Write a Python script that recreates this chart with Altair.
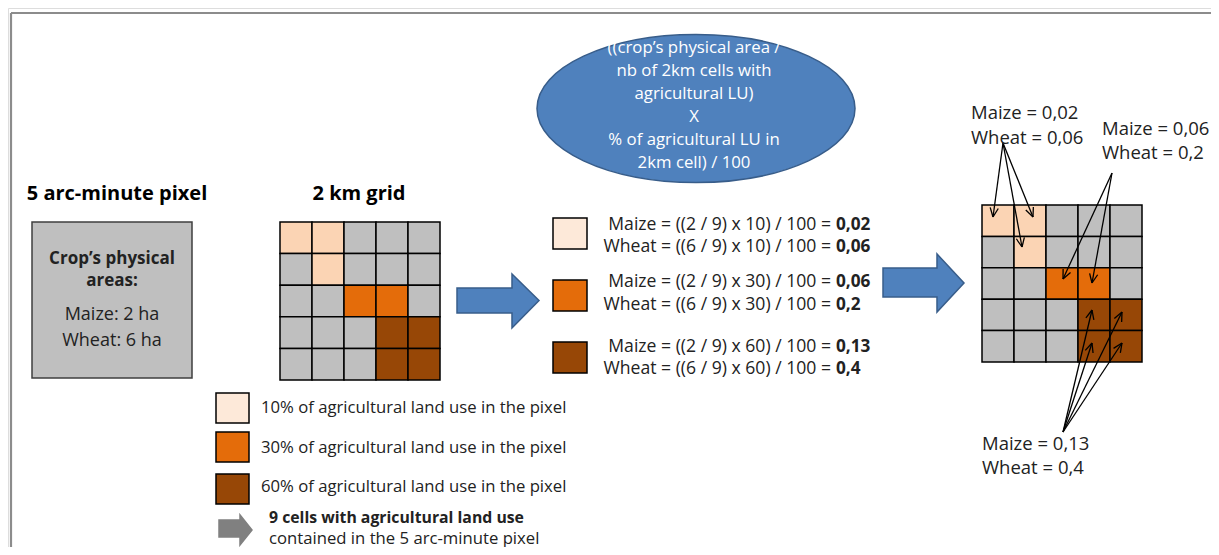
import math
import altair as alt
import pandas as pd

# ---------------- data ----------------
grid_pattern = ["LLGGG", "GLGGG", "GGOOG", "GGGBB", "GGGBB"]
cell_colors = {"L": "#FBD4B4", "G": "#BFBFBF", "O": "#E46C0A", "B": "#974706"}
legend_colors = ["#FDE9D9", "#E46C0A", "#974706"]
share_pct = [10, 30, 60]
crops = ["Maize", "Wheat"]
crop_ha = [2, 6]
n_cells = 9
maize_vals = ["0,02", "0,06", "0,13"]
wheat_vals = ["0,06", "0,2", "0,4"]
ellipse_lines = ["((crop\u2019s physical area /", "nb of 2km cells with",
                 "agricultural LU)", "X", "% of agricultural LU in",
                 "2km cell) / 100"]
title_pixel = "5 arc-minute pixel"
title_grid = "2 km grid"
box_lines = ["Crop\u2019s physical", "areas:"]
legend_note = ["9 cells with agricultural land use",
               "contained in the 5 arc-minute pixel"]

# ---------------- layout ----------------
W, H = 1203, 539
FONT = "Open Sans"
XS = alt.Scale(domain=[8, 1211], nice=False, zero=False)
YS = alt.Scale(domain=[8, 547], nice=False, zero=False, reverse=True)


def X(f="x"):
    return alt.X(f"{f}:Q", scale=XS, axis=None)


def Y(f="y"):
    return alt.Y(f"{f}:Q", scale=YS, axis=None, stack=None)


layers = []

# frame lines
frame = pd.DataFrame([
    {"x": 11, "y": 13, "x2": 1211, "y2": 13},
    {"x": 11, "y": 13, "x2": 11, "y2": 547},
])
layers.append(alt.Chart(frame).mark_rule(color="#8C8C8C", strokeWidth=2.2).encode(
    x=X(), y=Y(), x2="x2:Q", y2="y2:Q"))

# grey 5 arc-minute box
box = pd.DataFrame([{"x": 32, "x2": 192, "y": 222, "y2": 378}])
layers.append(alt.Chart(box).mark_rect(fill="#BFBFBF", stroke="#3F3F3F", strokeWidth=1.5).encode(
    x=X(), x2="x2:Q", y=Y(), y2="y2:Q"))

# grids
rows = []
for gx, gy, cw, ch in [(280, 222, 32, 31.6), (982, 205, 32, 31.4)]:
    for r, line in enumerate(grid_pattern):
        for c, k in enumerate(line):
            rows.append({"x": gx + c * cw, "x2": gx + (c + 1) * cw,
                         "y": gy + r * ch, "y2": gy + (r + 1) * ch,
                         "fill": cell_colors[k]})
# legend squares
for i, col in enumerate(legend_colors):
    ly = [393, 432, 474][i]
    rows.append({"x": 216, "x2": 249, "y": ly, "y2": ly + 30, "fill": col})
    my = [218, 280, 342][i]
    rows.append({"x": 553, "x2": 587, "y": my, "y2": my + 31, "fill": col})
cells = pd.DataFrame(rows)
layers.append(alt.Chart(cells).mark_rect(stroke="#000000", strokeWidth=1.5).encode(
    x=X(), x2="x2:Q", y=Y(), y2="y2:Q", fill=alt.Fill("fill:N", scale=None)))


# block arrows as areas (one layer per arrow)
def block_arrow(x0, xh, xt, st, sb, ht, hb, yc):
    pts = [(x0, st, sb), (xh - 0.01, st, sb), (xh, ht, hb), (xt, yc, yc)]
    return pd.DataFrame([{"x": p[0], "y": p[1], "y2": p[2]} for p in pts])


for spec, fill, stroke in [
    ((457, 512, 539, 288, 313, 274, 328, 300.5), "#4F81BD", "#385D8A"),
    ((883, 937, 964, 268, 297, 254, 312, 283), "#4F81BD", "#385D8A"),
    ((219, 240, 252, 520, 537, 515, 545, 530), "#808080", "#808080"),
]:
    layers.append(alt.Chart(block_arrow(*spec)).mark_area(
        fill=fill, stroke=stroke, strokeWidth=1.5, opacity=1, orient="vertical",
        interpolate="linear").encode(
        x=X(), y=Y(), y2="y2:Q"))

# ellipse
ell = pd.DataFrame([{"x": 696, "y": 108.5}])
rx, ry = 159, 74
shape = f"M-1,0 A1,{ry / rx:.4f} 0 1,1 1,0 A1,{ry / rx:.4f} 0 1,1 -1,0 Z"
layers.append(alt.Chart(ell).mark_point(shape=shape, size=(2 * rx) ** 2, filled=True,
                                        fill="#4F81BD", stroke="#385D8A", strokeWidth=1.5,
                                        opacity=1).encode(x=X(), y=Y()))

# connector arrows (right grid)
conn = [((1003, 143), (993, 217)), ((1003, 143), (1033, 217)), ((1003, 143), (1022, 247)),
        ((1112, 173), (1063, 279)), ((1112, 173), (1092, 283)),
        ((1063, 432), (1092, 310)), ((1063, 432), (1122, 312)),
        ((1063, 432), (1092, 343)), ((1063, 432), (1122, 343))]
segs = []
for (sx, sy), (tx, ty) in conn:
    segs.append({"x": sx, "y": sy, "x2": tx, "y2": ty})
    a = math.atan2(ty - sy, tx - sx)
    for d in (0.42, -0.42):
        segs.append({"x": tx - 10 * math.cos(a + d), "y": ty - 10 * math.sin(a + d),
                     "x2": tx, "y2": ty})
layers.append(alt.Chart(pd.DataFrame(segs)).mark_rule(color="#000000", strokeWidth=1.3).encode(
    x=X(), y=Y(), x2="x2:Q", y2="y2:Q"))


# ---------------- texts ----------------
def txt(recs, size, weight="normal", color="#000000", align="left"):
    return alt.Chart(pd.DataFrame(recs)).mark_text(
        font=FONT, fontSize=size, fontWeight=weight, color=color, align=align,
        baseline="alphabetic").encode(x=X(), y=Y(), text="t:N")


layers.append(txt([{"x": 117, "y": 200, "t": title_pixel},
                   {"x": 359, "y": 200, "t": title_grid}], 20, "bold", align="center"))
layers.append(txt([{"x": 112, "y": 264, "t": box_lines[0]},
                   {"x": 112, "y": 286, "t": box_lines[1]}], 17, "bold", "#222222", "center"))
layers.append(txt([{"x": 112, "y": 320, "t": f"{crops[0]}: {crop_ha[0]} ha"},
                   {"x": 112, "y": 346, "t": f"{crops[1]}: {crop_ha[1]} ha"}], 18, "normal", "#222222", "center"))

leg_y = [413, 452.5, 491.5]
layers.append(txt([{"x": 261, "y": leg_y[i], "t": f"{p}% of agricultural land use in the pixel"}
                   for i, p in enumerate(share_pct)], 16.7, color="#222222"))
layers.append(txt([{"x": 269, "y": 522.5, "t": legend_note[0]}], 15.8, "bold", "#222222"))
layers.append(txt([{"x": 269, "y": 543.5, "t": legend_note[1]}], 16.7, color="#222222"))

ell_y = [53, 76, 99, 122, 145, 168]
layers.append(txt([{"x": 694, "y": ell_y[i], "t": s} for i, s in enumerate(ellipse_lines)],
                  16.8, color="#FFFFFF", align="center"))

mid_y = [(230, 252), (287, 310), (352, 374)]
norm, bold = [], []
for i, p in enumerate(share_pct):
    for j, (crop, vals) in enumerate([(crops[0], maize_vals), (crops[1], wheat_vals)]):
        yy = mid_y[i][j]
        norm.append({"x": 831, "y": yy, "t": f"{crop} = (({crop_ha[j]} / {n_cells}) x {p}) / 100 ="})
        bold.append({"x": 836, "y": yy, "t": vals[i]})
layers.append(txt(norm, 17.6, color="#222222", align="right"))
layers.append(txt(bold, 17.2, "bold", "#222222"))

right_lbl = [((971, 119, 144), 0), ((1102, 135, 159), 1), ((982, 450, 474), 2)]
rl = []
for (xx, y1, y2), i in right_lbl:
    rl.append({"x": xx, "y": y1, "t": f"{crops[0]} = {maize_vals[i]}"})
    rl.append({"x": xx, "y": y2, "t": f"{crops[1]} = {wheat_vals[i]}"})
layers.append(txt(rl, 18.5, color="#222222"))

chart = alt.layer(*layers).properties(
    width=W, height=H, padding=0,
    autosize=alt.AutoSizeParams(type="none"),
).configure_view(strokeWidth=0).configure(background="#FFFFFF")

chart.save("out.html", embed_options={"renderer": "svg", "actions": False})
